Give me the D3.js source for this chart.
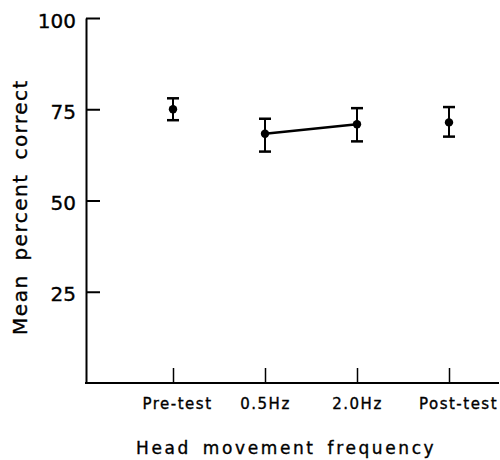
<!DOCTYPE html>
<html>
<head>
<meta charset="utf-8">
<script src="https://cdn.jsdelivr.net/npm/d3@7"></script>
<style>
  body { margin: 0; background: #fff; }
  svg { display: block; }
  text { font-family: "DejaVu Sans", "Liberation Sans", sans-serif; fill: #000; stroke: #000; stroke-width: 0.35px; }
</style>
</head>
<body>
<script>
// values
const conditions = ["Pre-test", "0.5Hz", "2.0Hz", "Post-test"];
const meanCorrect = [75, 68.3, 70.9, 71.4];
const lowerBar = [72, 63.4, 66.2, 67.5];
const upperBar = [78, 72.4, 75.3, 75.6];
const joined = ["0.5Hz", "2.0Hz"];
const yTicks = [25, 50, 75, 100];

const width = 500, height = 460;
const axisLeftX = 86, axisTopY = 18, axisBottomY = 383;

const svg = d3.select("body").append("svg")
    .attr("width", width)
    .attr("height", height);

const x = d3.scalePoint()
    .domain(conditions)
    .range([173, 449]);

const y = d3.scaleLinear()
    .domain([0, 100])
    .range([axisBottomY, axisTopY]);

const rows = conditions.map((c, i) => ({
  c, m: meanCorrect[i], lo: lowerBar[i], hi: upperBar[i]
}));

// y axis, ticks point inward
const yAxis = svg.append("g")
    .attr("transform", `translate(${axisLeftX},0)`)
    .call(d3.axisLeft(y).tickValues(yTicks).tickSizeInner(-14).tickSizeOuter(0).tickPadding(10));
yAxis.selectAll("path, line").attr("stroke", "#000").attr("stroke-width", 2);
yAxis.selectAll("text")
    .attr("font-size", 20)
    .attr("dy", "0.45em");

// x axis
const xAxis = svg.append("g")
    .attr("transform", `translate(0,${axisBottomY})`)
    .call(d3.axisBottom(x).tickSizeInner(-15).tickSizeOuter(0));
xAxis.select(".domain").remove();
xAxis.selectAll("line").attr("stroke", "#000").attr("stroke-width", 1.5);
xAxis.selectAll("text")
    .attr("font-size", 15)
    .attr("letter-spacing", 1.5)
    .attr("y", 26)
    .attr("dy", null)
    .attr("dx", (d, i) => i === 0 ? 4 : i === conditions.length - 1 ? 9 : 0);
xAxis.append("line")
    .attr("x1", axisLeftX - 1).attr("x2", 499)
    .attr("stroke", "#000").attr("stroke-width", 2);

// axis titles
svg.append("text")
    .attr("x", 136).attr("y", 454)
    .attr("font-size", 17)
    .attr("letter-spacing", 2.6)
    .attr("word-spacing", 4)
    .text("Head movement frequency");

svg.append("text")
    .attr("transform", `translate(27,207) rotate(-90)`)
    .attr("text-anchor", "middle")
    .attr("font-size", 20)
    .attr("letter-spacing", 1.5)
    .attr("word-spacing", 6)
    .text("Mean percent correct");

// connecting line between the two frequency conditions
const linked = rows.filter(d => joined.includes(d.c));
svg.append("path")
    .datum(linked)
    .attr("fill", "none")
    .attr("stroke", "#000")
    .attr("stroke-width", 2.5)
    .attr("d", d3.line().x(d => x(d.c)).y(d => y(d.m)));

// error bars
const bars = svg.append("g")
    .attr("stroke", "#000")
  .selectAll("g")
  .data(rows)
  .join("g");

bars.append("line")
    .attr("x1", d => x(d.c)).attr("x2", d => x(d.c))
    .attr("y1", d => y(d.lo)).attr("y2", d => y(d.hi))
    .attr("stroke-width", 2);

bars.selectAll(".cap")
  .data(d => [[d.c, d.lo], [d.c, d.hi]])
  .join("line")
    .attr("class", "cap")
    .attr("x1", d => x(d[0]) - 6).attr("x2", d => x(d[0]) + 6)
    .attr("y1", d => y(d[1])).attr("y2", d => y(d[1]))
    .attr("stroke-width", 2.5);

svg.append("g")
  .selectAll("circle")
  .data(rows)
  .join("circle")
    .attr("cx", d => x(d.c))
    .attr("cy", d => y(d.m))
    .attr("r", 4.2)
    .attr("fill", "#000");
</script>
</body>
</html>
